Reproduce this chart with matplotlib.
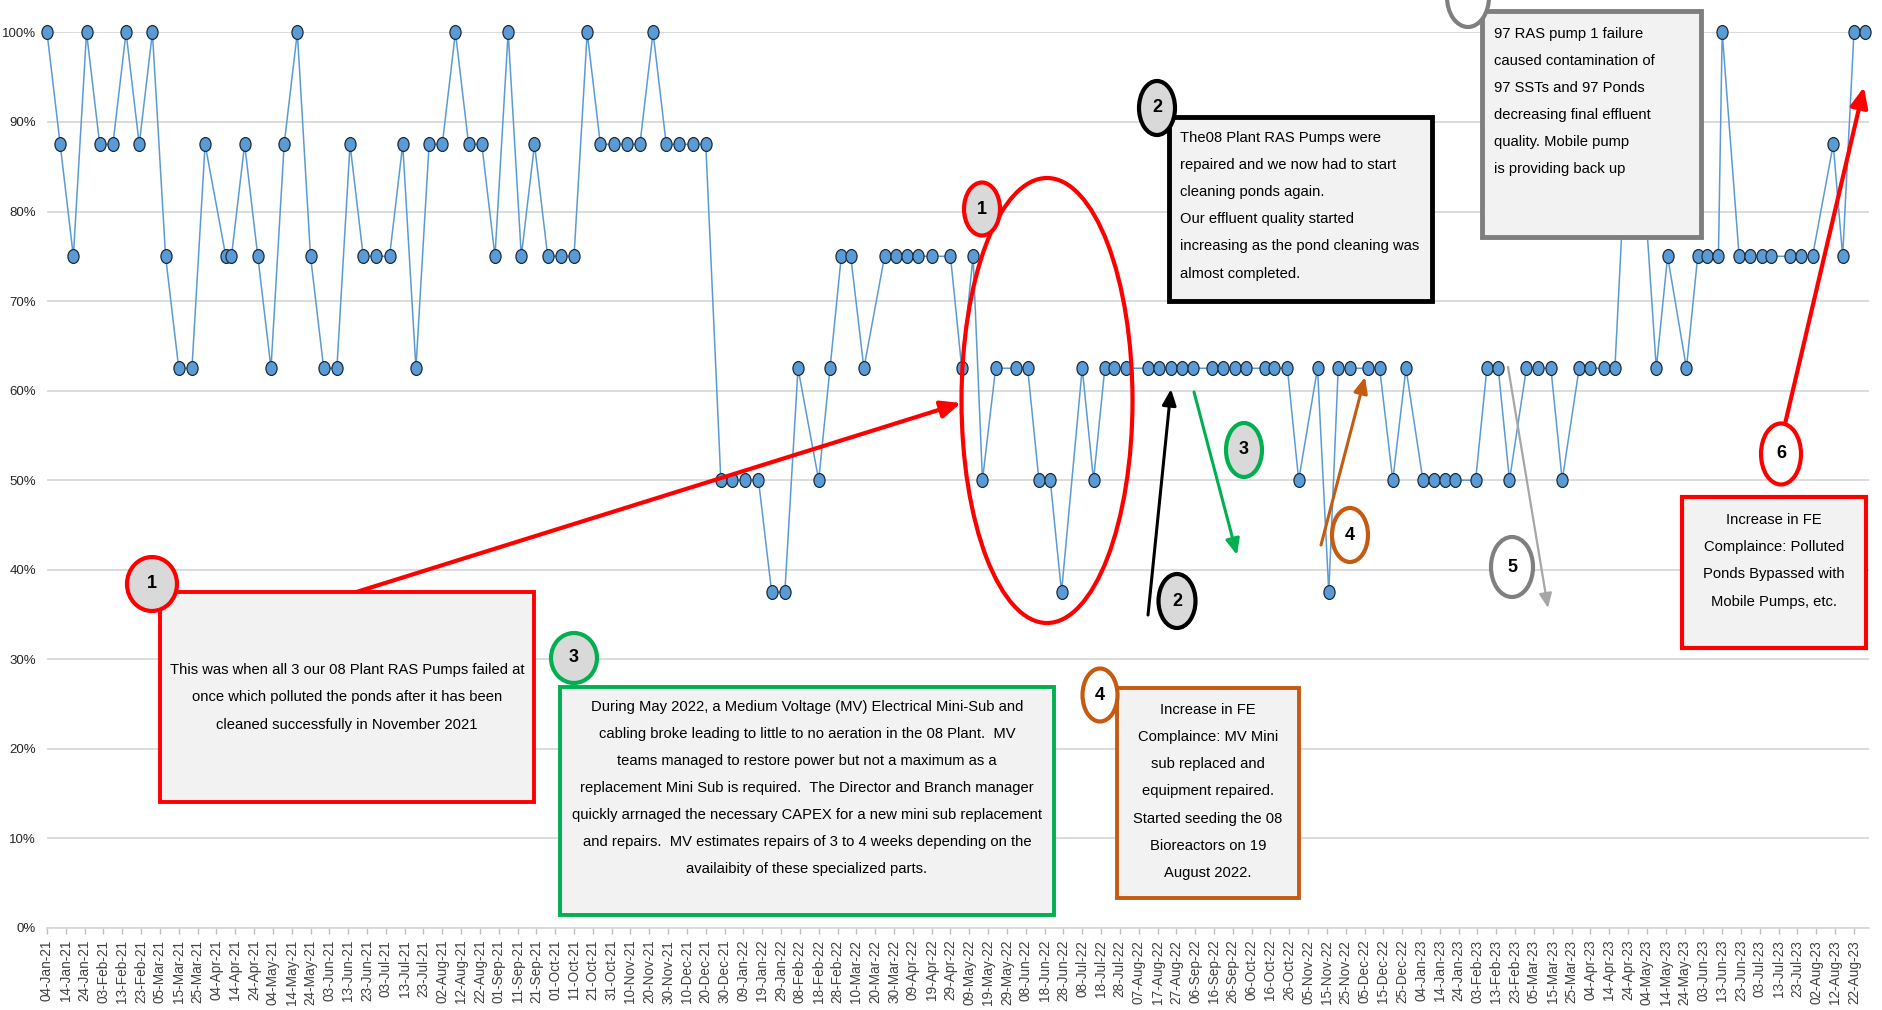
import numpy as np
import pandas as pd
import matplotlib
matplotlib.use("Agg")
import matplotlib.pyplot as plt
import matplotlib.dates as mdates
from matplotlib.path import Path
from matplotlib.transforms import Affine2D
from matplotlib.patches import Rectangle, Ellipse, FancyArrowPatch
from matplotlib.ticker import FixedLocator, FuncFormatter

plt.rcParams['font.family'] = ['Liberation Sans', 'DejaVu Sans']

# ---------------- data ----------------
START = '2021-01-04'
sample_day = [0, 7, 14, 21, 28, 35, 42, 49, 56, 63, 70, 77, 84, 95, 98, 105, 112, 119, 126, 133,
              140, 147, 154, 161, 168, 175, 182, 189, 196, 203, 210, 217, 224, 231, 238, 245, 252,
              259, 266, 273, 280, 287, 294, 301, 308, 315, 322, 329, 336, 343, 350, 358, 364, 371,
              378, 385, 392, 399, 410, 416, 422, 427, 434, 445, 451, 457, 463, 470, 480, 486, 492,
              497, 504, 515, 521, 527, 533, 539, 550, 556, 562, 567, 573, 585, 591, 597, 603, 609,
              619, 625, 631, 637, 647, 652, 659, 665, 675, 681, 686, 692, 702, 708, 715, 722, 731,
              737, 743, 748, 759, 765, 771, 777, 786, 792, 799, 805, 814, 820, 827, 833, 839, 847,
              855, 861, 871, 877, 882, 888, 890, 899, 905, 911, 916, 926, 932, 938, 949, 954, 960, 966]
compliance_pct = [100, 87.5, 75, 100, 87.5, 87.5, 100, 87.5, 100, 75, 62.5, 62.5, 87.5, 75, 75, 87.5, 75, 62.5, 87.5, 100,
                  75, 62.5, 62.5, 87.5, 75, 75, 75, 87.5, 62.5, 87.5, 87.5, 100, 87.5, 87.5, 75, 100, 75,
                  87.5, 75, 75, 75, 100, 87.5, 87.5, 87.5, 87.5, 100, 87.5, 87.5, 87.5, 87.5, 50, 50, 50,
                  50, 37.5, 37.5, 62.5, 50, 62.5, 75, 75, 62.5, 75, 75, 75, 75, 75, 75, 62.5, 75,
                  50, 62.5, 62.5, 62.5, 50, 50, 37.5, 62.5, 50, 62.5, 62.5, 62.5, 62.5, 62.5, 62.5, 62.5, 62.5,
                  62.5, 62.5, 62.5, 62.5, 62.5, 62.5, 62.5, 50, 62.5, 37.5, 62.5, 62.5, 62.5, 62.5, 50, 62.5, 50,
                  50, 50, 50, 50, 62.5, 62.5, 50, 62.5, 62.5, 62.5, 50, 62.5, 62.5, 62.5, 62.5, 87.5, 87.5,
                  62.5, 75, 62.5, 75, 75, 75, 100, 75, 75, 75, 75, 75, 75, 75, 87.5, 75, 100, 100]
tick_step_days = 10
tick_count = 97
y_ticks_pct = [0, 10, 20, 30, 40, 50, 60, 70, 80, 90, 100]

box1_lines = ["This was when all 3 our 08 Plant RAS Pumps failed at",
              "once which polluted the ponds after it has been",
              "cleaned successfully in November 2021"]
box2_lines = ["The08 Plant RAS Pumps were",
              "repaired and we now had to start",
              "cleaning ponds again.",
              "Our effluent quality started",
              "increasing as the pond cleaning was",
              "almost completed."]
box3_lines = ["During May 2022, a Medium Voltage (MV) Electrical Mini-Sub and",
              "cabling broke leading to little to no aeration in the 08 Plant.  MV",
              "teams managed to restore power but not a maximum as a",
              "replacement Mini Sub is required.  The Director and Branch manager",
              "quickly arrnaged the necessary CAPEX for a new mini sub replacement",
              "and repairs.  MV estimates repairs of 3 to 4 weeks depending on the",
              "availaibity of these specialized parts."]
box4_lines = ["Increase in FE", "Complaince: MV Mini", "sub replaced and", "equipment repaired.",
              "Started seeding the 08", "Bioreactors on 19", "August 2022."]
box5_lines = ["97 RAS pump 1 failure", "caused contamination of", "97 SSTs and 97 Ponds",
              "decreasing final effluent", "quality. Mobile pump", "is providing back up"]
box6_lines = ["Increase in FE", "Complaince: Polluted", "Ponds Bypassed with", "Mobile Pumps, etc."]

# ---------------- figure ----------------
W, H = 1883, 1010
fig = plt.figure(figsize=(W / 100, H / 100), dpi=100)
fig.patch.set_facecolor('white')

left_px, right_px, top_px, bottom_px = 47, 1869, 32.4, 928
ax = fig.add_axes([left_px / W, 1 - bottom_px / H, (right_px - left_px) / W, (bottom_px - top_px) / H])

start = pd.Timestamp(START)
dates = start + pd.to_timedelta(sample_day, unit='D')
vals = np.array(compliance_pct) / 100.0

ell_marker = Path.unit_circle().transformed(Affine2D().scale(0.8, 1.0))
ax.plot(dates, vals, color='#5B9BD5', lw=1.1, marker=ell_marker, ms=10,
        mfc='#5B9BD5', mec='#1C2B3A', mew=0.9, clip_on=False, zorder=3)

ax.set_xlim(start, start + pd.Timedelta(days=968))
ax.set_ylim(0, 1)

ticks = pd.date_range(start, periods=tick_count, freq=f'{tick_step_days}D')
ax.xaxis.set_major_locator(FixedLocator(mdates.date2num(ticks)))
ax.xaxis.set_major_formatter(mdates.DateFormatter('%d-%b-%y'))
ax.tick_params(axis='x', length=4, width=1, color='#BFBFBF', pad=4.5, labelsize=9.8,
               labelcolor='#404040', labelrotation=90)

ax.set_yticks(np.array(y_ticks_pct) / 100.0)
ax.yaxis.set_major_formatter(FuncFormatter(lambda v, p: f'{v * 100:.0f}%'))
ax.tick_params(axis='y', length=0, pad=7.9, labelsize=9.5, labelcolor='#262626')

ax.grid(axis='y', color='#D9D9D9', lw=1.3)
ax.set_axisbelow(True)
for s in ['top', 'right', 'left']:
    ax.spines[s].set_visible(False)
ax.spines['bottom'].set_color('#D9D9D9')
ax.spines['bottom'].set_linewidth(1.3)

# ---------------- overlay (pixel coordinates) ----------------
ov = fig.add_axes([0, 0, 1, 1], zorder=5)
ov.set_xlim(0, W)
ov.set_ylim(H, 0)
ov.axis('off')
ov.patch.set_alpha(0)

RED = '#FF0000'
GREEN = '#00B050'
ORANGE = '#C55A11'
GRAY = '#7F7F7F'
BOXFILL = '#F2F2F2'
CIRCFILL = '#D9D9D9'
TXT = 10.6

# big red ellipse
ov.add_patch(Ellipse((1047, 400.5), 171, 445, fill=False, ec=RED, lw=3.0, zorder=2))

def arrow(tail, tip, color, lw, ms=14):
    ov.add_patch(FancyArrowPatch(tail, tip, arrowstyle='-|>,head_length=0.8,head_width=0.35',
                                 mutation_scale=ms, color=color, lw=lw, shrinkA=0, shrinkB=0,
                                 zorder=3))

arrow((350, 594), (961, 403), RED, 3.0, 15)
arrow((1148, 615), (1171, 389), 'black', 2.2, 12)
arrow((1194, 392), (1237, 555), GREEN, 2.2, 12)
arrow((1321, 545), (1365, 377), ORANGE, 2.2, 12)
arrow((1508, 367), (1548, 608), '#A6A6A6', 1.6, 11)
arrow((1785, 424), (1864, 87), RED, 3.0, 15)

def box(x0, y0, x1, y1, ec, lw, lines, y_first, spacing, align, tx):
    ov.add_patch(Rectangle((x0, y0), x1 - x0, y1 - y0, fc=BOXFILL, ec=ec, lw=lw, zorder=4))
    for i, ln in enumerate(lines):
        ov.text(tx, y_first + i * spacing, ln, ha=align, va='center', fontsize=TXT,
                color='black', zorder=5)

box(160, 592, 534, 802, RED, 2.8, box1_lines, 670, 27.4, 'center', 347)
box(1169, 117, 1432, 301, 'black', 3.5, box2_lines, 137.6, 27.2, 'left', 1180)
box(560, 687, 1054, 915, GREEN, 2.8, box3_lines, 707.3, 27.0, 'center', 807)
box(1117, 688, 1299, 898, ORANGE, 2.8, box4_lines, 709.7, 27.2, 'center', 1208)
box(1482, 11, 1701, 237, GRAY, 3.5, box5_lines, 33.6, 27.1, 'left', 1494)
box(1682, 497, 1866, 648, RED, 3.0, box6_lines, 520, 27.2, 'center', 1774)

def circ(cx, cy, w, h, ec, fc, label=None):
    ov.add_patch(Ellipse((cx, cy), w, h, fc=fc, ec=ec, lw=3.0, zorder=6))
    if label:
        ov.text(cx, cy, label, ha='center', va='center', fontsize=13, fontweight='bold',
                color='black', zorder=7)

circ(152, 584, 50, 54, RED, CIRCFILL, '1')
circ(982, 209, 36, 53, RED, CIRCFILL, '1')
circ(1157, 108, 36, 54, 'black', CIRCFILL, '2')
circ(1177, 601, 37, 54, 'black', CIRCFILL, '2')
circ(574, 658, 46, 50, GREEN, CIRCFILL, '3')
circ(1244, 450, 36, 54, GREEN, CIRCFILL, '3')
circ(1100, 695, 35, 53, ORANGE, 'white', '4')
circ(1350, 535, 36, 54, ORANGE, 'white', '4')
circ(1512, 567, 42, 60, GRAY, 'white', '5')
circ(1468, -3, 42, 60, GRAY, 'white')  # partly outside the crop; its number is not visible
circ(1781, 454, 40, 61, RED, 'white', '6')

fig.savefig('out.png', dpi=100, facecolor='white')
